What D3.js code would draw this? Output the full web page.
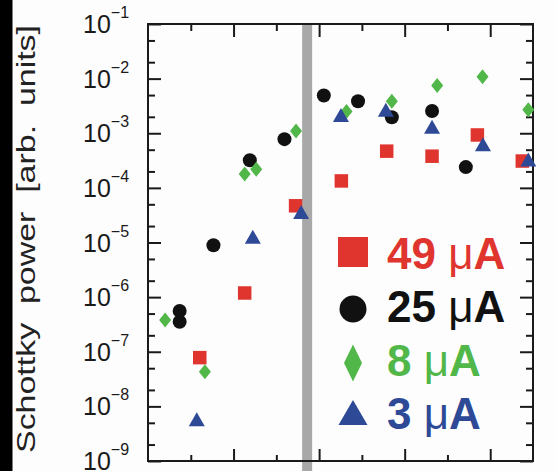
<!DOCTYPE html>
<html>
<head>
<meta charset="utf-8">
<script src="https://cdn.jsdelivr.net/npm/d3@7"></script>
<style>
    body { margin: 0; background: #fdfdfd; }
    svg { display: block; }
    .tick line { stroke: #1a1a1a; stroke-width: 2; }
    .tick text { display: none; }
    .domain { display: none; }
</style>
</head>
<body>
<svg id="chart" width="556" height="471"></svg>
<script>
// values, x in tick units (0..9), y in arb. units
const labels = ["49 \u03bcA", "25 \u03bcA", "8 \u03bcA", "3 \u03bcA"];
const colors = ["#e0352f", "#111111", "#50b748", "#2e4a97"];

const red49 = [[1.21, 7.8e-8], [2.26, 1.19e-6], [3.45, 4.7e-5], [4.52, 1.34e-4],
    [5.58, 4.7e-4], [6.64, 3.8e-4], [7.70, 9.3e-4], [8.75, 3.1e-4]];
const black25 = [[0.74, 5.6e-7], [0.74, 3.55e-7], [1.53, 8.9e-6], [2.38, 3.2e-4], [3.19, 7.8e-4],
    [4.11, 4.9e-3], [4.91, 3.85e-3], [5.70, 1.96e-3], [6.64, 2.55e-3], [7.43, 2.4e-4]];
const green8 = [[0.40, 3.8e-7], [1.33, 4.3e-8], [2.26, 1.8e-4], [2.53, 2.2e-4], [3.46, 1.1e-3],
    [4.64, 2.5e-3], [5.70, 3.85e-3], [6.76, 7.5e-3], [7.82, 1.08e-2], [8.89, 2.7e-3]];
const blue3 = [[1.14, 5.8e-9], [2.45, 1.28e-5], [3.58, 3.6e-5], [4.51, 2.16e-3],
    [5.56, 2.7e-3], [6.64, 1.32e-3], [7.83, 6.3e-4], [8.89, 3.3e-4]];

const yExponents = [-1, -2, -3, -4, -5, -6, -7, -8, -9];
const xMajor = [2, 4, 6, 8];
const xMinor = [1, 3, 5, 7];
const bandX = 3.72;   // grey marker line

const margin = {top: 24, right: 23, bottom: 10, left: 148};
const width = 556, height = 471;
const innerW = width - margin.left - margin.right;
const innerH = height - margin.top - margin.bottom;

const svg = d3.select("#chart");

const x = d3.scaleLinear().domain([0, 9]).range([margin.left, margin.left + innerW]);
const y = d3.scaleLog().domain([1e-9, 1e-1]).range([margin.top + innerH, margin.top]);

const yMajor = yExponents.map(e => Math.pow(10, e));
let yMinor = [];
for (let e = -9; e < -1; e++) {
    yMinor.push(2 * Math.pow(10, e));
    yMinor.push(5 * Math.pow(10, e));
}

// black strip at the left edge
svg.append("rect")
    .attr("x", 0).attr("y", 0)
    .attr("width", 12.5).attr("height", height)
    .attr("fill", "#000");

// grey vertical band
svg.append("rect")
    .attr("x", x(bandX) - 5)
    .attr("y", margin.top)
    .attr("width", 10)
    .attr("height", height - margin.top)
    .attr("fill", "#a8a8a8");

// ticks, all pointing inwards
function addAxis(axis, tx, ty) {
    svg.append("g")
        .attr("transform", "translate(" + tx + "," + ty + ")")
        .call(axis);
}
const right = margin.left + innerW, bottom = margin.top + innerH;
addAxis(d3.axisLeft(y).tickValues(yMajor).tickSize(-13), margin.left, 0);
addAxis(d3.axisLeft(y).tickValues(yMinor).tickSize(-7), margin.left, 0);
addAxis(d3.axisRight(y).tickValues(yMajor).tickSize(-13), right, 0);
addAxis(d3.axisRight(y).tickValues(yMinor).tickSize(-7), right, 0);
addAxis(d3.axisTop(x).tickValues(xMajor).tickSize(-13), 0, margin.top);
addAxis(d3.axisTop(x).tickValues(xMinor).tickSize(-7), 0, margin.top);
addAxis(d3.axisBottom(x).tickValues(xMajor).tickSize(-12), 0, bottom);
addAxis(d3.axisBottom(x).tickValues(xMinor).tickSize(-6), 0, bottom);

// frame
svg.append("rect")
    .attr("x", margin.left).attr("y", margin.top)
    .attr("width", innerW).attr("height", innerH)
    .attr("fill", "none")
    .attr("stroke", "#1a1a1a")
    .attr("stroke-width", 2);

// y tick labels 10^n
const yLabels = svg.append("g")
    .style("font-family", "'Liberation Sans', Arial, sans-serif")
    .attr("fill", "#1a1a1a");
yExponents.forEach(function (e) {
    let t = yLabels.append("text")
        .attr("x", 83)
        .attr("y", y(Math.pow(10, e)) + 9)
        .style("font-size", "25px");
    t.append("tspan").text("10");
    t.append("tspan")
        .attr("dy", -15)
        .style("font-size", "16px")
        .text("\u2212" + Math.abs(e));
});

// axis title, wide gaps between words like the original
svg.append("text")
    .attr("transform", "translate(35," + 239 + ") rotate(-90)")
    .attr("text-anchor", "middle")
    .attr("textLength", 428)
    .attr("lengthAdjust", "spacingAndGlyphs")
    .style("white-space", "pre")
    .style("font-family", "'Liberation Sans', Arial, sans-serif")
    .style("font-size", "26px")
    .attr("fill", "#222")
    .text("Schottky  power  [arb.  units]");

// marker shapes, centred on their box
function square(s) {
    return "M" + (-s / 2) + "," + (-s / 2) + "h" + s + "v" + s + "h" + (-s) + "Z";
}
function circle(r) {
    return d3.arc()({innerRadius: 0, outerRadius: r, startAngle: 0, endAngle: 2 * Math.PI});
}
function diamond(w, h) {
    return "M0," + (-h / 2) + "L" + (w / 2) + ",0L0," + (h / 2) + "L" + (-w / 2) + ",0Z";
}
function triangle(w, h) {
    return "M0," + (-h / 2) + "L" + (w / 2) + "," + (h / 2) + "L" + (-w / 2) + "," + (h / 2) + "Z";
}

const shapes = [
    () => square(13.5),
    () => circle(7),
    () => diamond(12, 15),
    () => triangle(16, 14),
];
const legendShapes = [
    () => square(30),
    () => circle(13.5),
    () => diamond(18, 37),
    () => triangle(29, 25),
];

const allSeries = [red49, black25, green8, blue3];

allSeries.forEach(function (data, i) {
    svg.append("g")
        .selectAll("path")
        .data(data)
        .join("path")
        .attr("transform", d => "translate(" + x(d[0]) + "," + y(d[1]) + ")")
        .attr("d", shapes[i])
        .attr("fill", colors[i]);
});

// legend
const legendMarkY = [252, 309, 363, 412.5];
const legendTextY = [269, 322, 376, 429];
const legend = svg.append("g");
labels.forEach(function (label, i) {
    legend.append("path")
        .attr("transform", "translate(353," + legendMarkY[i] + ")")
        .attr("d", legendShapes[i]())
        .attr("fill", colors[i]);
    let parts = label.split(" ");
    let t = legend.append("text")
        .attr("x", 387)
        .attr("y", legendTextY[i])
        .attr("fill", colors[i])
        .style("font-family", "'Liberation Sans', Arial, sans-serif")
        .style("font-size", "44px")
        .style("font-weight", "bold");
    t.append("tspan").text(parts[0] + " ");
    t.append("tspan").style("font-weight", "normal").text(parts[1].charAt(0));
    t.append("tspan").text(parts[1].slice(1));
});
</script>
</body>
</html>
